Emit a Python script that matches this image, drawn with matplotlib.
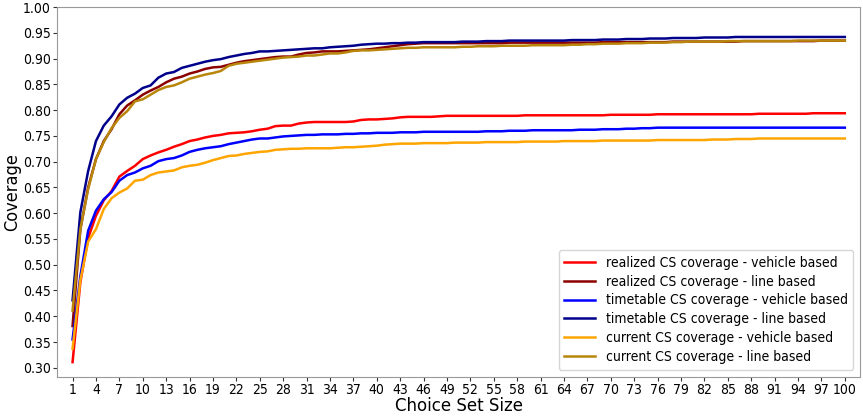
import numpy as np
import matplotlib
matplotlib.use("Agg")
import matplotlib.pyplot as plt

plt.rcParams['font.family'] = ['DejaVu Sans']
plt.rcParams['font.stretch'] = 'condensed'

# choice set sizes 1..100
cs_size = list(range(1, 101))

realized_vehicle = [
    0.311, 0.466, 0.552, 0.595, 0.625, 0.643, 0.671, 0.682, 0.692, 0.705,
    0.712, 0.718, 0.723, 0.729, 0.734, 0.740, 0.743, 0.747, 0.750, 0.752,
    0.755, 0.756, 0.757, 0.759, 0.762, 0.764, 0.769, 0.770, 0.770, 0.774,
    0.776, 0.777, 0.777, 0.777, 0.777, 0.777, 0.778, 0.781, 0.782, 0.782,
    0.783, 0.784, 0.786, 0.787, 0.787, 0.787, 0.787, 0.788, 0.789, 0.789,
    0.789, 0.789, 0.789, 0.789, 0.789, 0.789, 0.789, 0.789, 0.790, 0.790,
    0.790, 0.790, 0.790, 0.790, 0.790, 0.790, 0.790, 0.790, 0.790, 0.791,
    0.791, 0.791, 0.791, 0.791, 0.791, 0.792, 0.792, 0.792, 0.792, 0.792,
    0.792, 0.792, 0.792, 0.792, 0.792, 0.792, 0.792, 0.792, 0.793, 0.793,
    0.793, 0.793, 0.793, 0.793, 0.793, 0.794, 0.794, 0.794, 0.794, 0.794,
]
realized_line = [
    0.381, 0.569, 0.650, 0.705, 0.740, 0.763, 0.792, 0.809, 0.819, 0.830,
    0.838, 0.845, 0.854, 0.861, 0.865, 0.871, 0.875, 0.880, 0.883, 0.884,
    0.888, 0.892, 0.895, 0.897, 0.899, 0.901, 0.903, 0.904, 0.904, 0.908,
    0.911, 0.912, 0.914, 0.914, 0.914, 0.915, 0.916, 0.917, 0.918, 0.920,
    0.922, 0.924, 0.926, 0.928, 0.929, 0.930, 0.930, 0.930, 0.930, 0.930,
    0.930, 0.930, 0.930, 0.930, 0.930, 0.930, 0.931, 0.931, 0.931, 0.931,
    0.931, 0.931, 0.931, 0.931, 0.931, 0.931, 0.931, 0.931, 0.932, 0.932,
    0.932, 0.932, 0.932, 0.932, 0.932, 0.932, 0.932, 0.933, 0.933, 0.933,
    0.933, 0.933, 0.933, 0.933, 0.933, 0.933, 0.934, 0.934, 0.934, 0.934,
    0.934, 0.934, 0.934, 0.934, 0.934, 0.934, 0.935, 0.935, 0.935, 0.935,
]
timetable_vehicle = [
    0.355, 0.478, 0.566, 0.605, 0.627, 0.641, 0.663, 0.674, 0.679, 0.687,
    0.692, 0.701, 0.705, 0.707, 0.712, 0.719, 0.723, 0.726, 0.728, 0.730,
    0.734, 0.737, 0.740, 0.743, 0.745, 0.745, 0.747, 0.749, 0.750, 0.751,
    0.752, 0.752, 0.753, 0.753, 0.753, 0.754, 0.754, 0.755, 0.755, 0.756,
    0.756, 0.756, 0.757, 0.757, 0.757, 0.758, 0.758, 0.758, 0.758, 0.758,
    0.758, 0.758, 0.758, 0.759, 0.759, 0.759, 0.760, 0.760, 0.760, 0.761,
    0.761, 0.761, 0.761, 0.761, 0.761, 0.762, 0.762, 0.762, 0.763, 0.763,
    0.763, 0.764, 0.764, 0.765, 0.765, 0.766, 0.766, 0.766, 0.766, 0.766,
    0.766, 0.766, 0.766, 0.766, 0.766, 0.766, 0.766, 0.766, 0.766, 0.766,
    0.766, 0.766, 0.766, 0.766, 0.766, 0.766, 0.766, 0.766, 0.766, 0.766,
]
timetable_line = [
    0.431, 0.602, 0.682, 0.740, 0.770, 0.788, 0.811, 0.824, 0.832, 0.843,
    0.848, 0.863, 0.871, 0.874, 0.882, 0.886, 0.890, 0.894, 0.897, 0.899,
    0.903, 0.906, 0.909, 0.911, 0.914, 0.914, 0.915, 0.916, 0.917, 0.918,
    0.919, 0.920, 0.920, 0.922, 0.923, 0.924, 0.925, 0.927, 0.928, 0.929,
    0.929, 0.930, 0.930, 0.931, 0.931, 0.932, 0.932, 0.932, 0.932, 0.932,
    0.933, 0.933, 0.933, 0.934, 0.934, 0.934, 0.935, 0.935, 0.935, 0.935,
    0.935, 0.935, 0.935, 0.935, 0.936, 0.936, 0.936, 0.936, 0.937, 0.937,
    0.937, 0.938, 0.938, 0.938, 0.939, 0.939, 0.939, 0.940, 0.940, 0.940,
    0.940, 0.941, 0.941, 0.941, 0.941, 0.942, 0.942, 0.942, 0.942, 0.942,
    0.942, 0.942, 0.942, 0.942, 0.942, 0.942, 0.942, 0.942, 0.942, 0.942,
]
current_vehicle = [
    0.337, 0.470, 0.545, 0.569, 0.608, 0.629, 0.640, 0.648, 0.663, 0.665,
    0.674, 0.679, 0.681, 0.683, 0.689, 0.692, 0.694, 0.698, 0.703, 0.707,
    0.711, 0.712, 0.715, 0.717, 0.719, 0.720, 0.723, 0.724, 0.725, 0.725,
    0.726, 0.726, 0.726, 0.726, 0.727, 0.728, 0.728, 0.729, 0.730, 0.731,
    0.733, 0.734, 0.735, 0.735, 0.735, 0.736, 0.736, 0.736, 0.736, 0.737,
    0.737, 0.737, 0.737, 0.738, 0.738, 0.738, 0.738, 0.738, 0.739, 0.739,
    0.739, 0.739, 0.739, 0.740, 0.740, 0.740, 0.740, 0.740, 0.741, 0.741,
    0.741, 0.741, 0.741, 0.741, 0.741, 0.742, 0.742, 0.742, 0.742, 0.742,
    0.742, 0.742, 0.743, 0.743, 0.743, 0.744, 0.744, 0.744, 0.745, 0.745,
    0.745, 0.745, 0.745, 0.745, 0.745, 0.745, 0.745, 0.745, 0.745, 0.745,
]
current_line = [
    0.411, 0.569, 0.647, 0.705, 0.738, 0.765, 0.785, 0.798, 0.817, 0.821,
    0.830, 0.839, 0.845, 0.848, 0.854, 0.861, 0.865, 0.869, 0.872, 0.876,
    0.886, 0.890, 0.892, 0.894, 0.896, 0.898, 0.900, 0.902, 0.903, 0.904,
    0.906, 0.906, 0.908, 0.910, 0.910, 0.912, 0.915, 0.916, 0.916, 0.917,
    0.918, 0.919, 0.920, 0.921, 0.921, 0.922, 0.922, 0.922, 0.922, 0.922,
    0.923, 0.923, 0.924, 0.924, 0.924, 0.925, 0.925, 0.925, 0.925, 0.926,
    0.926, 0.926, 0.926, 0.926, 0.927, 0.927, 0.928, 0.928, 0.929, 0.929,
    0.929, 0.930, 0.930, 0.930, 0.931, 0.931, 0.931, 0.932, 0.932, 0.933,
    0.933, 0.933, 0.933, 0.933, 0.934, 0.934, 0.934, 0.934, 0.934, 0.934,
    0.934, 0.934, 0.934, 0.935, 0.935, 0.935, 0.935, 0.935, 0.935, 0.935,
]

series = [
    ("realized CS coverage - vehicle based", realized_vehicle, "red"),
    ("realized CS coverage - line based", realized_line, "darkred"),
    ("timetable CS coverage - vehicle based", timetable_vehicle, "blue"),
    ("timetable CS coverage - line based", timetable_line, "darkblue"),
    ("current CS coverage - vehicle based", current_vehicle, "orange"),
    ("current CS coverage - line based", current_line, "darkgoldenrod"),
]

fig = plt.figure(figsize=(8.63, 4.17), dpi=100)
ax = fig.add_axes([0.066, 0.097, 0.931, 0.886])

for label, vals, color in series:
    ax.plot(cs_size, vals, color=color, lw=1.8, label=label)

ax.set_xlim(-1, 102)
ax.set_ylim(0.283, 1.0)
ax.set_xticks(range(1, 101, 3))
ax.set_yticks(np.arange(0.30, 1.001, 0.05))
ax.yaxis.set_major_formatter(matplotlib.ticker.FormatStrFormatter("%.2f"))
ax.tick_params(labelsize=10, colors="#333333", labelcolor="black",
               length=3, pad=1.5)
ax.set_xlabel("Choice Set Size", fontsize=12, fontstretch='normal', labelpad=0)
ax.set_ylabel("Coverage", fontsize=13, labelpad=1)
for sp in ax.spines.values():
    sp.set_color("#999999")

ax.legend(loc="lower right", fontsize=10, handlelength=2.2, labelspacing=0.35)

fig.savefig("out.png", dpi=100)
